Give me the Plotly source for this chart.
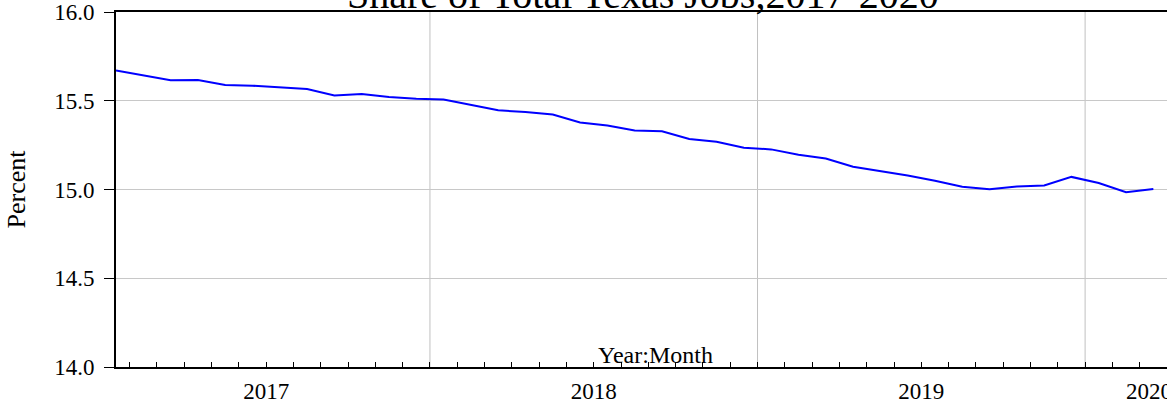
import plotly.graph_objects as go

# ---- data ----
months = [f"{y}M{m:02d}" for y in (2017, 2018, 2019) for m in range(1, 13)] + ["2020M01", "2020M02", "2020M03"]
share = [15.671, 15.645, 15.615, 15.617, 15.589, 15.585, 15.575, 15.566, 15.530, 15.538,
         15.521, 15.511, 15.507, 15.475, 15.446, 15.437, 15.422, 15.378, 15.360, 15.333,
         15.328, 15.285, 15.269, 15.235, 15.226, 15.196, 15.175, 15.128, 15.104, 15.079,
         15.049, 15.015, 15.002, 15.017, 15.023, 15.071, 15.037, 14.985, 15.003]
years = ["2017", "2018", "2019", "2020"]
y_ticks = [14.0, 14.5, 15.0, 15.5, 16.0]
y_ticktext = ["14.0", "14.5", "15.0", "15.5", "16.0"]

x = list(range(len(months)))

# year positions derived from month labels
year_idx = {yr: [i for i, m in enumerate(months) if m.startswith(yr)] for yr in years}
year_centers = [sum(v) / len(v) for v in year_idx.values()]
year_centers[-1] += 0.84  # last (partial) year label shifted as in reference
boundaries = [year_idx[yr][0] - 0.5 for yr in years[1:]]
month_ticks = [i + 0.5 for i in x[:-1]]

FONT = "Liberation Serif"

fig = go.Figure()
fig.add_trace(go.Scatter(x=x, y=share, mode="lines",
                         line=dict(color="#0000ff", width=2), showlegend=False,
                         hoverinfo="skip"))

for b in boundaries:
    fig.add_shape(type="line", xref="x", yref="paper", x0=b, x1=b, y0=0, y1=1,
                  line=dict(color="#c0c0c0", width=1), layer="below")

fig.update_layout(
    width=1167, height=402,
    margin=dict(l=116, r=0, t=12, b=35),
    paper_bgcolor="white", plot_bgcolor="white",
    font=dict(family=FONT, color="black", size=23),
    xaxis=dict(range=[0, 38.5], showgrid=False, zeroline=False, automargin=False,
               tickmode="array", tickvals=year_centers, ticktext=years,
               ticks="", tickfont=dict(size=23, family=FONT, color="black"),
               ticklabelstandoff=2, ticklabeloverflow="allow",
               showline=True, linecolor="black", linewidth=2, mirror=True,
               minor=dict(tickmode="array", tickvals=month_ticks, ticks="inside",
                          ticklen=5, tickwidth=1, tickcolor="black", showgrid=False)),
    yaxis=dict(range=[14, 16], tickmode="array", tickvals=y_ticks, ticktext=y_ticktext,
               automargin=False, ticklabelstandoff=5,
               ticks="outside", ticklen=10, tickwidth=1, tickcolor="black",
               showgrid=True, gridcolor="#c8c8c8", gridwidth=1, zeroline=False,
               showline=True, linecolor="black", linewidth=2, mirror=False,
               tickfont=dict(size=23, family=FONT, color="black")),
    annotations=[
        dict(text="Share of Total Texas Jobs,2017-2020", xref="paper", yref="paper",
             x=0.5015, y=1, xanchor="center", yanchor="bottom", yshift=-7,
             showarrow=False, font=dict(size=40, family=FONT)),
        dict(text="Year:Month", xref="paper", yref="paper", x=0.513, y=0,
             xanchor="center", yanchor="bottom", yshift=-3,
             showarrow=False, font=dict(size=24, family=FONT)),
        dict(text="Percent", xref="paper", yref="paper", x=-(116 - 16) / 1051, y=0.5,
             xanchor="center", yanchor="middle", textangle=-90,
             showarrow=False, font=dict(size=26, family=FONT)),
    ],
)

fig.write_html("out.html", config={"displayModeBar": False},
               post_script="document.body.style.margin='0';")
